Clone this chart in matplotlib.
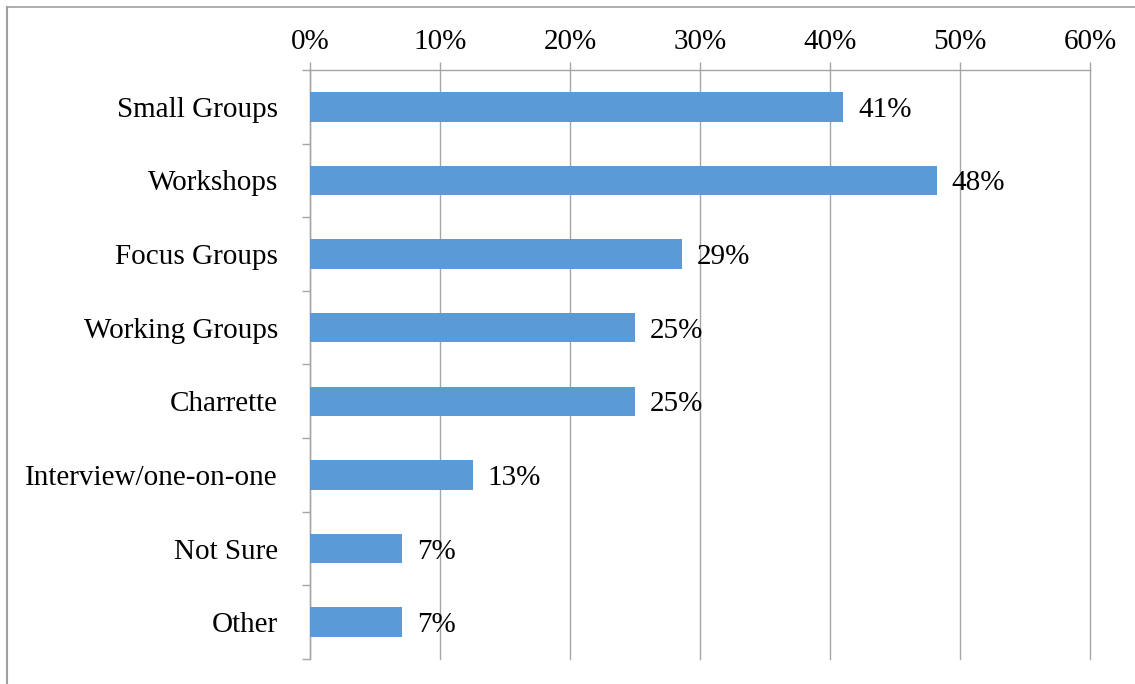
import matplotlib
matplotlib.use("Agg")
import matplotlib.pyplot as plt
from matplotlib.ticker import FixedLocator, PercentFormatter
from matplotlib.lines import Line2D

categories = ['Small Groups', 'Workshops', 'Focus Groups', 'Working Groups',
              'Charrette', 'Interview/one-on-one', 'Not Sure', 'Other']
values = [41.0, 48.2, 28.6, 25.0, 25.0, 12.5, 7.1, 7.1]
labels = ['41%', '48%', '29%', '25%', '25%', '13%', '7%', '7%']
x_ticks = [0, 10, 20, 30, 40, 50, 60]

plt.rcParams['font.family'] = ['Liberation Serif', 'DejaVu Serif']

fig = plt.figure(figsize=(11.35, 6.84), dpi=100)
ax = fig.add_axes([310 / 1135, 1 - 659 / 684, 780 / 1135, 589 / 684])

grid_color = '#A6A6A6'
fs = 21
ypos = list(range(len(categories)))
ax.barh(ypos, values, height=0.4, color='#5B9BD5', zorder=3)

for y, v, lab in zip(ypos, values, labels):
    ax.annotate(lab, (v, y), xytext=(15, -3), textcoords='offset pixels',
                va='center', ha='left', fontsize=fs, color='black', zorder=4)

ax.set_xlim(0, 60)
ax.set_ylim(len(categories) - 0.5, -0.5)
ax.xaxis.set_major_locator(FixedLocator(x_ticks))
ax.xaxis.set_major_formatter(PercentFormatter(decimals=0))
ax.xaxis.tick_top()
ax.tick_params(axis='x', which='major', length=6, width=1, color=grid_color,
               pad=5, labelsize=fs)
ax.grid(axis='x', color=grid_color, linewidth=1, zorder=0)
for gl in ax.get_xgridlines():
    gl.set_clip_on(False)

ax.set_yticks(ypos)
ax.set_yticklabels(categories)
ax.yaxis.set_minor_locator(FixedLocator([i - 0.5 for i in range(len(categories) + 1)]))
ax.tick_params(axis='y', which='major', length=0, pad=23, labelsize=fs)
ax.tick_params(axis='y', which='minor', length=6, width=1, color=grid_color)

for side in ['right', 'bottom']:
    ax.spines[side].set_visible(False)
for side in ['left', 'top']:
    ax.spines[side].set_color(grid_color)
    ax.spines[side].set_linewidth(1)

# chart frame: only top and left edges show in the crop
bx, by = 6.5 / 1135, 1 - 7 / 684
fig.lines.append(Line2D([bx, 1], [by, by], transform=fig.transFigure,
                        color='#A0A0A0', linewidth=1.2))
fig.lines.append(Line2D([bx, bx], [0, by], transform=fig.transFigure,
                        color='#A0A0A0', linewidth=1.5))

fig.savefig('out.png', dpi=100)
